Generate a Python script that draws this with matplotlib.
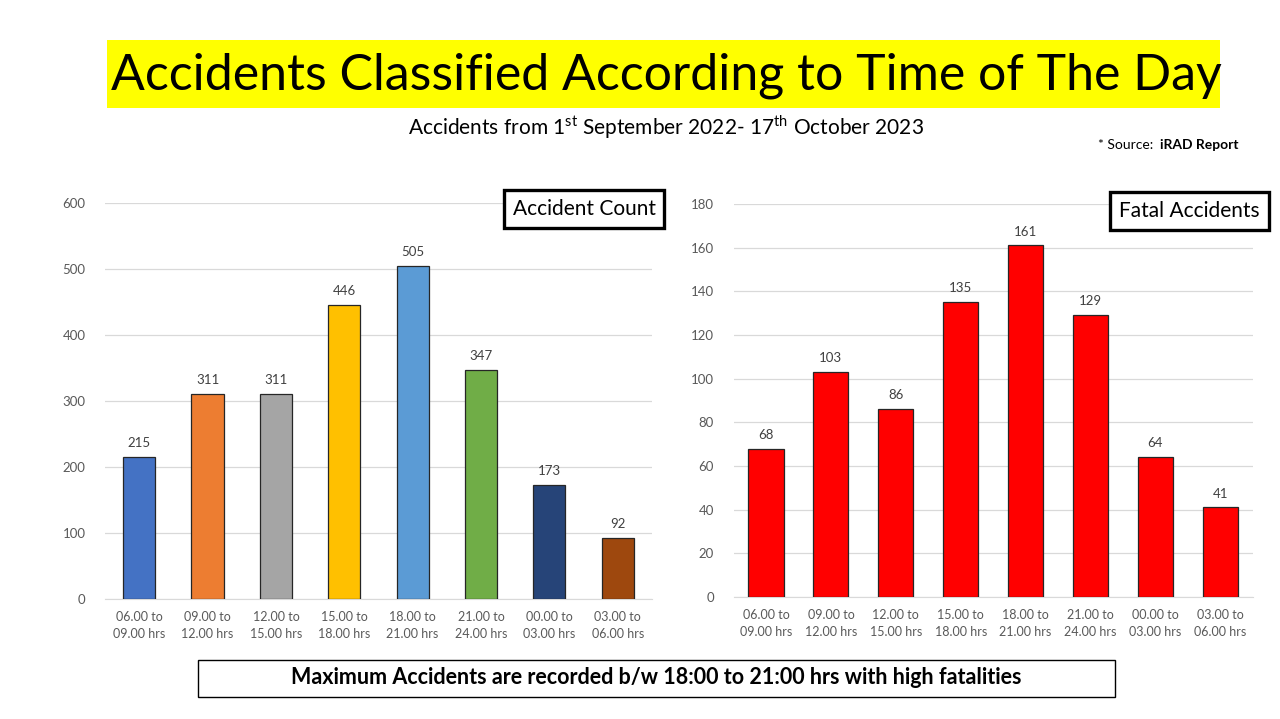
import matplotlib.pyplot as plt
from matplotlib.patches import Rectangle

plt.rcParams['font.family'] = ['Lato', 'DejaVu Sans']
plt.rcParams['mathtext.fontset'] = 'custom'
plt.rcParams['mathtext.rm'] = 'Lato'

time_slots = ["06.00 to\n09.00 hrs", "09.00 to\n12.00 hrs", "12.00 to\n15.00 hrs",
              "15.00 to\n18.00 hrs", "18.00 to\n21.00 hrs", "21.00 to\n24.00 hrs",
              "00.00 to\n03.00 hrs", "03.00 to\n06.00 hrs"]
accident_count = [215, 311, 311, 446, 505, 347, 173, 92]
fatal_accidents = [68, 103, 86, 135, 161, 129, 64, 41]
count_colors = ['#4472C4', '#ED7D31', '#A5A5A5', '#FFC000',
                '#5B9BD5', '#70AD47', '#264478', '#9E480E']

fig = plt.figure(figsize=(12.8, 7.19), dpi=100)

def bar_panel(ax, values, colors, width, ymax, step, label, lab_x, lab_y):
    x = range(len(values))
    bars = ax.bar(x, values, width=width, color=colors, edgecolor='#262626', linewidth=0.9, zorder=3)
    for b, v in zip(bars, values):
        ax.text(b.get_x() + b.get_width() / 2, v + ymax * 0.02, str(v),
                ha='center', va='bottom', fontsize=9.5, color='#404040')
    ax.set_xlim(-0.5, len(values) - 0.5)
    ax.set_ylim(0, ymax)
    ax.set_yticks(range(0, ymax + 1, step))
    ax.set_xticks(list(x))
    ax.set_xticklabels(time_slots, fontsize=9, color='#595959', linespacing=1.45)
    ax.tick_params(axis='y', labelsize=9.5, colors='#595959', length=0, pad=14)
    ax.tick_params(axis='x', length=0, pad=9)
    ax.grid(axis='y', color='#D9D9D9', linewidth=0.9, zorder=0)
    for s in ['top', 'right', 'left']:
        ax.spines[s].set_visible(False)
    ax.spines['bottom'].set_color('#D9D9D9')
    ax.text(lab_x, lab_y, label, transform=ax.transAxes, ha='right', va='center',
            fontsize=15, color='black',
            bbox=dict(boxstyle='square,pad=0.42', facecolor='white', edgecolor='black', linewidth=2.4))

ax1 = fig.add_axes([0.082, 0.1669, 0.4273, 0.5508])
bar_panel(ax1, accident_count, count_colors, 0.47, 600, 100, "Accident Count", 1.007, 0.985)

ax2 = fig.add_axes([0.5731, 0.1697, 0.4055, 0.5466])
bar_panel(ax2, fatal_accidents, ['#FF0000'] * 8, 0.54, 180, 20, "Fatal Accidents", 1.014, 0.982)

# title with yellow highlight
fig.patches.append(Rectangle((107 / 1280, 1 - 108 / 719), (1220 - 107) / 1280, 68 / 719,
                             transform=fig.transFigure, facecolor='#FFFF00', edgecolor='none'))
fig.text(666 / 1280, 1 - 76 / 719, "Accidents Classified According to Time of The Day",
         ha='center', va='center', fontsize=36, color='black')

fig.text(666 / 1280, 1 - 127 / 719,
         r"Accidents from 1$^{\rm st}$ September 2022- 17$^{\rm th}$ October 2023",
         ha='center', va='center', fontsize=15, color='black')

fig.text(1160 / 1280, 1 - 145 / 719, "* Source:  ", ha='right', va='center', fontsize=10)
fig.text(1160 / 1280, 1 - 145 / 719, "iRAD Report", ha='left', va='center',
         fontsize=10, fontweight='bold')

# bottom conclusion box
fig.patches.append(Rectangle((198 / 1280, 1 - 697 / 719), (1115 - 198) / 1280, 37 / 719,
                             transform=fig.transFigure, facecolor='white', edgecolor='black',
                             linewidth=1.0))
fig.text(656 / 1280, 1 - 678 / 719,
         "Maximum Accidents are recorded b/w 18:00 to 21:00 hrs with high fatalities",
         ha='center', va='center', fontsize=15.5, fontweight='bold')

fig.savefig('out.png', dpi=100)
